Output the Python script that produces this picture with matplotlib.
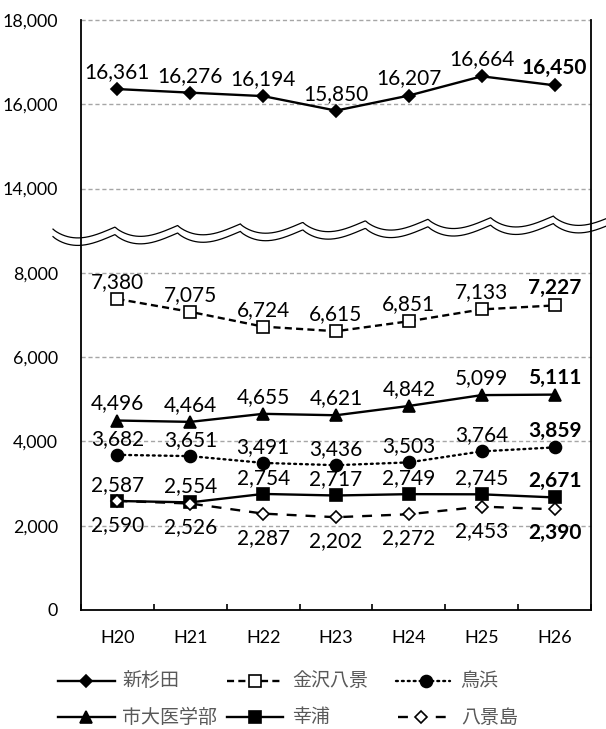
import numpy as np
import matplotlib
matplotlib.use('Agg')
import matplotlib.pyplot as plt
from matplotlib.lines import Line2D

years = ['H20', 'H21', 'H22', 'H23', 'H24', 'H25', 'H26']
shinsugita = [16361, 16276, 16194, 15850, 16207, 16664, 16450]
kanazawa = [7380, 7075, 6724, 6615, 6851, 7133, 7227]
torihama = [3682, 3651, 3491, 3436, 3503, 3764, 3859]
shidai = [4496, 4464, 4655, 4621, 4842, 5099, 5111]
sachiura = [2587, 2554, 2754, 2717, 2749, 2745, 2671]
hakkeijima = [2590, 2526, 2287, 2202, 2272, 2453, 2390]
ytick_values = [0, 2000, 4000, 6000, 8000, 14000, 16000, 18000]

# values above the break are drawn shifted down by this amount
BREAK_SHIFT = 4000
BREAK_FROM = 8000

def to_axis(v):
    return v - BREAK_SHIFT if v > BREAK_FROM else v

W, H = 606, 729
fig = plt.figure(figsize=(W / 100, H / 100), dpi=100)
ax = fig.add_axes([81 / W, 1 - 610 / H, 510 / W, 590 / H])

x = np.arange(len(years))
num_font = 'Lato'
jp_font = ['Noto Sans CJK JP', 'DejaVu Sans']

series = [
    # name, values, linestyle, marker, ms, facecolor, label offset (px)
    ('新杉田', shinsugita, '-', 'D', 6.6, 'black', 17),
    ('金沢八景', kanazawa, (0, (3.0, 1.8)), 's', 8.4, 'white', 17),
    ('鳥浜', torihama, (0, (0.8, 1.7)), 'o', 8.6, 'black', 16),
    ('市大医学部', shidai, '-', '^', 8.6, 'black', 17),
    ('幸浦', sachiura, '-', 's', 8.2, 'black', 16),
    ('八景島', hakkeijima, (0, (4.2, 3.8)), 'D', 6.0, 'white', -24),
]

for name, vals, ls, mk, ms, fc, off in series:
    yv = [to_axis(v) for v in vals]
    dcap = 'round' if name == '鳥浜' else 'butt'
    ax.plot(x, yv, linestyle=ls, color='black', lw=1.7, marker=mk, ms=ms,
            markerfacecolor=fc, markeredgecolor='black', mew=1.2,
            dash_capstyle=dcap, zorder=3)
    for i, (xi, v) in enumerate(zip(x, vals)):
        ax.annotate(f'{v:,}', (xi, to_axis(v)), xytext=(0, off * 0.72),
                    textcoords='offset points', ha='center', va='center',
                    fontsize=15, family=num_font,
                    fontweight='bold' if i == len(vals) - 1 else 'normal',
                    color='black', zorder=4)

ax.set_xlim(-0.5, len(years) - 0.5)
ax.set_ylim(0, to_axis(18000))

# gridlines (top one doubles as the upper border)
for v in ytick_values[1:]:
    ax.axhline(to_axis(v), color='#a6a6a6', lw=1.0, linestyle=(0, (3, 2)),
               clip_on=False, zorder=1)

ax.set_yticks([to_axis(v) for v in ytick_values])
ax.set_yticklabels([f'{v:,}' for v in ytick_values], family=num_font,
                   fontsize=12.8)
ax.tick_params(axis='y', length=0, pad=16.5)

ax.set_xticks(x)
ax.set_xticklabels(years, family=num_font, fontsize=13)
ax.set_xticks(np.arange(-0.5, len(years)), minor=True)
ax.tick_params(axis='x', which='major', length=0, pad=14.5)
ax.tick_params(axis='x', which='minor', direction='in', length=4.3,
               width=1.2, color='black')

ax.spines['top'].set_visible(False)
for s in ['left', 'right', 'bottom']:
    ax.spines[s].set_color('black')
    ax.spines[s].set_linewidth(1.3)

# wavy break marks, drawn in figure pixels
px = np.linspace(53, 606, 600)
k = np.floor((px - 52.6) / 62.6)
t = (px - 52.6 - k * 62.6) / 62.6
py = 227 - 0.025 * (px - 115) + 10 * np.sin(np.pi * t ** 0.8)
for dy in (0, 7.5):
    fig.add_artist(Line2D(px / W, 1 - (py + dy) / H, color='black', lw=0.9,
                          transform=fig.transFigure))

# legend, laid out like the original
legend_pos = [
    (58, 115, 86, 122, 681),
    (227, 283, 255, 292, 681),
    (396, 450, 426, 460, 681),
    (58, 115, 86, 122, 717),
    (227, 283, 255, 292, 717),
    (398, 446, 421, 461, 717),
]
for (name, vals, ls, mk, ms, fc, off), (x0, x1, xm, xt, yr) in zip(series, legend_pos):
    dcap = 'round' if name == '鳥浜' else 'butt'
    fig.add_artist(Line2D([x0 / W, x1 / W], [1 - yr / H] * 2, linestyle=ls,
                          color='black', lw=1.7, dash_capstyle=dcap,
                          transform=fig.transFigure))
    fig.add_artist(Line2D([xm / W], [1 - yr / H], marker=mk, ms=ms,
                          markerfacecolor=fc, markeredgecolor='black', mew=1.2,
                          transform=fig.transFigure))
    fig.text(xt / W, 1 - yr / H, name, family=jp_font, fontsize=13.7,
             color='#595959', ha='left', va='center')

fig.savefig('out.png', dpi=100)
